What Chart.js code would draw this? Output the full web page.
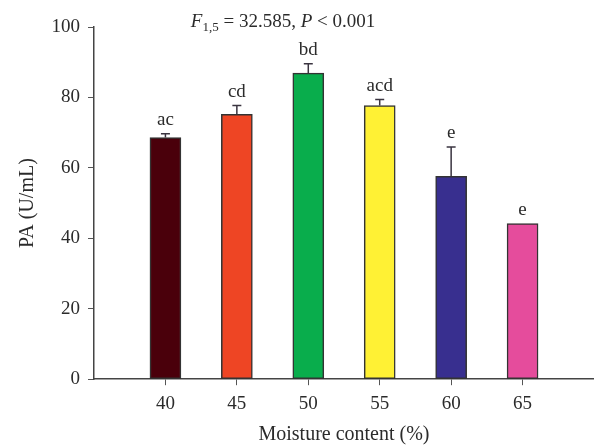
<!DOCTYPE html>
<html>
<head>
<meta charset="utf-8">
<script src="https://cdn.jsdelivr.net/npm/chart.js@4"></script>
<style>
  html, body { margin: 0; padding: 0; background: #fff; overflow: hidden; }
  #wrap { width: 594px; height: 445px; position: relative; }
</style>
</head>
<body>
<div id="wrap"><canvas id="myChart"></canvas></div>
<script>
// data
const moistureLevels = ['35', '40', '45', '50', '55', '60', '65', '70']
const paMeans = [null, 68.6, 75.2, 86.9, 77.7, 57.6, 44.2, null]
const paErrors = [null, 1.1, 2.5, 2.7, 1.7, 8.3, 0, null]
const groupLetters = ['', 'ac', 'cd', 'bd', 'acd', 'e', 'e', '']
const barColors = ['#fff', '#4a000b', '#ee4524', '#09ad4c', '#fff134', '#382f8f', '#e54c9c', '#fff']
const yTicks = [0, 20, 40, 60, 80, 100]

const serif = '"Liberation Serif", "DejaVu Serif", serif'
const ink = '#2b2b2b'

const errorBarsPlugin = {
  id: 'errorBars',
  afterDatasetsDraw(chart) {
    const { ctx, scales } = chart
    const meta = chart.getDatasetMeta(0)
    ctx.save()
    ctx.strokeStyle = '#3a3440'
    ctx.lineWidth = 1.5
    ctx.fillStyle = ink
    ctx.font = '19px ' + serif
    ctx.textAlign = 'center'
    ctx.textBaseline = 'alphabetic'
    meta.data.forEach((bar, i) => {
      if (paMeans[i] == null) return
      const yTop = scales.y.getPixelForValue(paMeans[i])
      const yErr = scales.y.getPixelForValue(paMeans[i] + paErrors[i])
      if (paErrors[i] > 0) {
        ctx.beginPath()
        ctx.moveTo(bar.x, yTop)
        ctx.lineTo(bar.x, yErr)
        ctx.moveTo(bar.x - 4.5, yErr)
        ctx.lineTo(bar.x + 4.5, yErr)
        ctx.stroke()
      }
      ctx.fillText(groupLetters[i], bar.x, yErr - 9)
    })
    ctx.restore()
  },
}

const statTitlePlugin = {
  id: 'statTitle',
  afterDraw(chart) {
    const { ctx } = chart
    ctx.save()
    ctx.fillStyle = ink
    ctx.textBaseline = 'alphabetic'
    ctx.textAlign = 'left'
    const parts = [
      { t: 'F', f: 'italic 19px ' + serif, dy: 0 },
      { t: '1,5', f: '13px ' + serif, dy: 4 },
      { t: ' = 32.585, ', f: '19px ' + serif, dy: 0 },
      { t: 'P', f: 'italic 19px ' + serif, dy: 0 },
      { t: ' < 0.001', f: '19px ' + serif, dy: 0 },
    ]
    let total = 0
    parts.forEach((p) => { ctx.font = p.f; total += ctx.measureText(p.t).width })
    let x = 283 - total / 2
    const base = 27
    parts.forEach((p) => {
      ctx.font = p.f
      ctx.fillText(p.t, x, base + p.dy)
      x += ctx.measureText(p.t).width
    })
    ctx.restore()
  },
}

const ctx = document.getElementById('myChart').getContext('2d')
const myChart = new Chart(ctx, {
  type: 'bar',
  data: {
    labels: moistureLevels,
    datasets: [
      {
        data: paMeans,
        backgroundColor: barColors,
        borderColor: '#333',
        borderWidth: 1.5,
        borderSkipped: false,
        barThickness: 31,
      },
    ],
  },
  options: {
    responsive: true,
    maintainAspectRatio: false,
    animation: false,
    devicePixelRatio: 1,
    layout: { padding: { top: 27, right: 0, left: 0, bottom: 0 } },
    plugins: {
      legend: { display: false },
      tooltip: { enabled: false },
    },
    scales: {
      x: {
        offset: false,
        afterFit: (s) => {
          s.paddingLeft = 0
          s.paddingRight = 0
        },
        grid: {
          display: true,
          offset: false,
          drawOnChartArea: false,
          drawTicks: true,
          tickLength: 6,
          tickColor: (c) => (c.index === 0 || c.index === moistureLevels.length - 1 ? 'rgba(0,0,0,0)' : '#555'),
        },
        border: { display: true, color: '#444', width: 1.5 },
        ticks: {
          color: ink,
          font: { family: serif, size: 19 },
          padding: 7,
          maxRotation: 0,
          autoSkip: false,
          callback: (v, i) => (i === 0 || i === moistureLevels.length - 1 ? '' : moistureLevels[i]),
        },
        title: {
          display: true,
          text: 'Moisture content (%)',
          color: ink,
          font: { family: serif, size: 20, lineHeight: 1.0 },
          padding: { top: 3, bottom: 0 },
        },
      },
      y: {
        min: 0,
        max: 100,
        afterBuildTicks: (s) => { s.ticks = yTicks.map((v) => ({ value: v })) },
        afterFit: (s) => { s.width = 94 },
        grid: {
          display: true,
          drawOnChartArea: false,
          drawTicks: true,
          tickLength: 6,
          tickColor: '#555',
        },
        border: { display: true, color: '#444', width: 1.5 },
        ticks: {
          color: ink,
          font: { family: serif, size: 19 },
          padding: 8,
        },
        title: {
          display: true,
          text: 'PA (U/mL)',
          color: ink,
          font: { family: serif, size: 20 },
          padding: { top: 16, bottom: 0 },
        },
      },
    },
  },
  plugins: [errorBarsPlugin, statTitlePlugin],
})
</script>
</body>
</html>
